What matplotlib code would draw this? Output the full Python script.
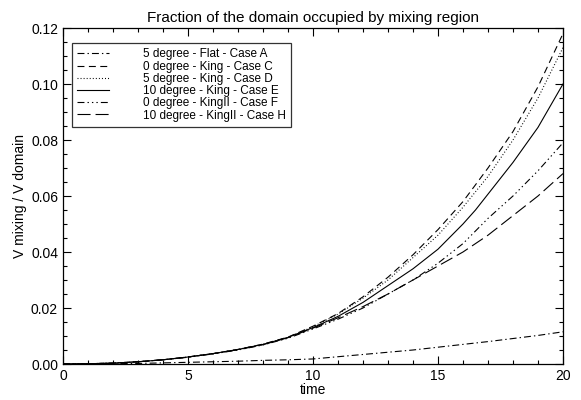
import matplotlib
matplotlib.use("Agg")
import matplotlib.pyplot as plt
from matplotlib.ticker import MultipleLocator, FormatStrFormatter

plt.rcParams['font.family'] = ['Liberation Sans', 'DejaVu Sans']
plt.rcParams['lines.scale_dashes'] = False

time = [0, 1, 2, 3, 4, 5, 6, 7, 8, 9, 10, 11, 12, 13, 14, 15, 16, 17, 18, 19, 20]

case_a = [0, 0.00005, 0.0001, 0.0002, 0.0004, 0.0006, 0.0008, 0.0010, 0.0013, 0.0015,
          0.0018, 0.0026, 0.0034, 0.0042, 0.0050, 0.0060, 0.0070, 0.0080, 0.0091, 0.0102, 0.0115]
case_c = [0, 0.0001, 0.0003, 0.0008, 0.0015, 0.0025, 0.0037, 0.0052, 0.0071, 0.0096,
          0.0135, 0.018, 0.024, 0.031, 0.039, 0.048, 0.058, 0.070, 0.083, 0.099, 0.118]
case_d = [0, 0.0001, 0.0003, 0.0008, 0.0015, 0.0025, 0.0037, 0.0052, 0.0070, 0.0095,
          0.0133, 0.0178, 0.0235, 0.030, 0.038, 0.046, 0.056, 0.067, 0.080, 0.095, 0.113]
case_e_t = [0, 1, 2, 3, 4, 5, 6, 7, 8, 9, 10, 11, 12, 13, 14, 15, 16, 16.5, 18, 19, 20]
case_e = [0, 0.0001, 0.0003, 0.0008, 0.0015, 0.0025, 0.0037, 0.0052, 0.0070, 0.0095,
          0.013, 0.017, 0.022, 0.028, 0.034, 0.041, 0.050, 0.055, 0.072, 0.0845, 0.100]
case_f = [0, 0.0001, 0.0003, 0.0008, 0.0015, 0.0024, 0.0036, 0.0050, 0.0068, 0.0092,
          0.0125, 0.016, 0.020, 0.025, 0.030, 0.036, 0.043, 0.052, 0.060, 0.069, 0.079]
case_h = [0, 0.0001, 0.0003, 0.0008, 0.0015, 0.0025, 0.0037, 0.0051, 0.0069, 0.0094,
          0.0128, 0.0165, 0.0205, 0.025, 0.030, 0.035, 0.040, 0.046, 0.053, 0.060, 0.068]

labels = ["5 degree - Flat - Case A", "0 degree - King - Case C", "5 degree - King - Case D",
          "10 degree - King - Case E", "0 degree - KingII - Case F", "10 degree - KingII - Case H"]

fig = plt.figure(figsize=(5.81, 4.0), dpi=100)
ax = fig.add_axes([0.1084, 0.09, 0.8606, 0.84])

lw = 0.8
ax.plot(time, case_a, color='black', lw=lw, linestyle=(0, (5, 2.2, 1, 2.2)), label=labels[0])
ax.plot(time, case_c, color='black', lw=lw, linestyle=(0, (5, 3.2)), label=labels[1])
ax.plot(time, case_d, color='black', lw=lw, linestyle=(0, (0.7, 1.5)), label=labels[2])
ax.plot(case_e_t, case_e, color='black', lw=lw, linestyle='-', label=labels[3])
ax.plot(time, case_f, color='black', lw=lw, linestyle=(0, (5, 2.2, 1, 2.2, 1, 2.2, 1, 2.2)), label=labels[4])
ax.plot(time, case_h, color='black', lw=lw, linestyle=(0, (9.4, 3.6)), label=labels[5])

ax.set_xlim(0, 20)
ax.set_ylim(0, 0.12)
ax.xaxis.set_major_locator(MultipleLocator(5))
ax.xaxis.set_minor_locator(MultipleLocator(1))
ax.yaxis.set_major_locator(MultipleLocator(0.02))
ax.yaxis.set_minor_locator(MultipleLocator(0.005))
ax.yaxis.set_major_formatter(FormatStrFormatter('%.2f'))
ax.tick_params(which='both', direction='in', top=True, right=True, labelsize=10, width=0.8)
ax.tick_params(which='major', length=6)
ax.tick_params(which='minor', length=3)
for s in ax.spines.values():
    s.set_linewidth(0.9)

ax.set_title("Fraction of the domain occupied by mixing region", fontsize=11, pad=4)
ax.set_xlabel("time", fontsize=10, labelpad=0)
ax.set_ylabel("V mixing / V domain", fontsize=10, labelpad=3)

leg = ax.legend(loc='upper left', bbox_to_anchor=(0.018, 0.955), fontsize=8.5, frameon=True,
                fancybox=False, edgecolor='black', handlelength=2.7, handletextpad=2.85,
                labelspacing=0.02, borderpad=0.45, borderaxespad=0)
leg.get_frame().set_linewidth(0.9)

fig.savefig("out.png", dpi=100)
